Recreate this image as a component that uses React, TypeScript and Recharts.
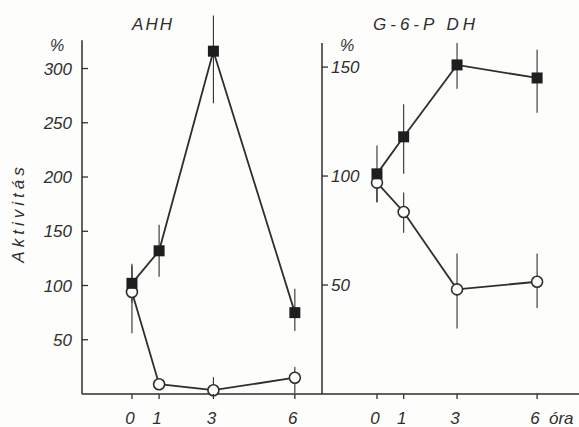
import { ErrorBar, Line, LineChart, ReferenceLine, XAxis, YAxis } from "recharts"

const hours = [0, 1, 3, 6]

// AHH panel
const ahhFilled = [102, 132, 316, 75]
const ahhFilledErr = [[18, 18], [24, 24], [48, 33], [17, 22]]
const ahhOpen = [94, 9, 3.5, 15]
const ahhOpenErr = [[38, 24], [3, 3], [3.5, 12], [14, 10]]
const ahhTicks = [50, 100, 150, 200, 250, 300]

// G-6-P DH panel
const g6pFilled = [101, 118, 151, 145]
const g6pFilledErr = [[13, 13], [17, 15], [11, 10], [16, 13]]
const g6pOpen = [97, 83.5, 48, 51.5]
const g6pOpenErr = [[9, 5], [9.5, 9], [18, 16.5], [12, 13]]
const g6pTicks = [50, 100, 150]

const INK = "#2e2e2e"
const FONT = "'Liberation Sans', Arial, sans-serif"

const ahhData = hours.map((h, i) => ({
    h,
    filled: ahhFilled[i],
    filledErr: ahhFilledErr[i],
    open: ahhOpen[i],
    openErr: ahhOpenErr[i],
}))

const g6pData = hours.map((h, i) => ({
    h,
    filled: g6pFilled[i],
    filledErr: g6pFilledErr[i],
    open: g6pOpen[i],
    openErr: g6pOpenErr[i],
}))

const textStyle = { fontFamily: FONT, fontStyle: "italic" as const, fontSize: 17, fill: INK }

const LeftYTick = (props: any) => {
    const { x, y, payload } = props
    return (
        <g>
            <line x1={x} x2={x + 6} y1={y} y2={y} stroke={INK} strokeWidth={1.3} />
            <text x={x - 10} y={y} dy="0.36em" textAnchor="end" {...textStyle}>
                {payload.value}
            </text>
        </g>
    )
}

const RightYTick = (props: any) => {
    const { x, y, payload } = props
    return (
        <g>
            <line x1={x} x2={x + 6} y1={y} y2={y} stroke={INK} strokeWidth={1.3} />
            <text x={x + 9} y={y} dy="0.36em" textAnchor="start" {...textStyle}>
                {payload.value}
            </text>
        </g>
    )
}

const XTick = (props: any) => {
    const { x, y, payload } = props
    return (
        <g>
            <line x1={x} x2={x} y1={y} y2={y + 5} stroke={INK} strokeWidth={1.3} />
            <text x={x - 2} y={y + 24} dy="0.36em" textAnchor="middle" {...textStyle}>
                {payload.value}
            </text>
        </g>
    )
}

const Square = (p: any) => (
    <rect key={p.index} x={p.cx - 5.5} y={p.cy - 5.5} width={11} height={11} fill="#1e1e1e" />
)

const openDot = { r: 5.5, fill: "#fdfdfb", stroke: INK, strokeWidth: 1.6 }

export default function App() {
    return (
        <div style={{ position: "absolute", left: 0, top: 0, width: 579, height: 427, background: "#fdfdfb" }}>
            <div style={{ position: "absolute", left: 0, top: 0 }}>
                <LineChart width={322} height={427} data={ahhData} margin={{ top: 8, right: 0, bottom: 3, left: 0 }}>
                    <XAxis
                        dataKey="h"
                        type="number"
                        domain={[-1.84, 7]}
                        ticks={hours}
                        height={30}
                        tickSize={0}
                        tickMargin={0}
                        tickLine={false}
                        tick={<XTick />}
                        stroke={INK}
                        strokeWidth={1.5}
                    />
                    <YAxis
                        type="number"
                        domain={[0, 355.8]}
                        ticks={ahhTicks}
                        width={82}
                        axisLine={false}
                        tickSize={0}
                        tickMargin={0}
                        tickLine={false}
                        tick={<LeftYTick />}
                    />
                    <ReferenceLine
                        segment={[{ x: -1.84, y: 0 }, { x: -1.84, y: 326 }]}
                        stroke={INK}
                        strokeWidth={1.5}
                    />
                    <Line
                        dataKey="open"
                        stroke={INK}
                        strokeWidth={1.8}
                        dot={openDot}
                        activeDot={false}
                        isAnimationActive={false}
                    >
                        <ErrorBar dataKey="openErr" width={0} stroke={INK} strokeWidth={1.1} direction="y" />
                    </Line>
                    <Line
                        dataKey="filled"
                        stroke={INK}
                        strokeWidth={1.8}
                        dot={Square}
                        activeDot={false}
                        isAnimationActive={false}
                    >
                        <ErrorBar dataKey="filledErr" width={0} stroke={INK} strokeWidth={1.1} direction="y" />
                    </Line>
                    <text x={153} y={24} dy="0.36em" textAnchor="middle" letterSpacing={2} {...textStyle}>
                        AHH
                    </text>
                    <text x={57} y={45} dy="0.36em" textAnchor="middle" {...textStyle} fontSize={16}>
                        %
                    </text>
                    <text
                        x={18}
                        y={213}
                        dy="0.36em"
                        textAnchor="middle"
                        letterSpacing={4}
                        transform="rotate(-90, 18, 213)"
                        {...textStyle}
                        fontSize={17}
                    >
                        Aktivitás
                    </text>
                </LineChart>
            </div>
            <div style={{ position: "absolute", left: 290, top: 0 }}>
                <LineChart width={289} height={427} data={g6pData} margin={{ top: 20, right: 0, bottom: 3, left: 0 }}>
                    <XAxis
                        dataKey="h"
                        type="number"
                        domain={[-2.06, 7.57]}
                        ticks={hours}
                        height={30}
                        tickSize={0}
                        tickMargin={0}
                        tickLine={false}
                        tick={<XTick />}
                        stroke={INK}
                        strokeWidth={1.5}
                    />
                    <YAxis
                        type="number"
                        domain={[0, 171.6]}
                        ticks={g6pTicks}
                        width={32}
                        axisLine={false}
                        tickSize={0}
                        tickMargin={0}
                        tickLine={false}
                        tick={<RightYTick />}
                    />
                    <ReferenceLine
                        segment={[{ x: -2.06, y: 0 }, { x: -2.06, y: 161 }]}
                        stroke={INK}
                        strokeWidth={1.5}
                    />
                    <Line
                        dataKey="open"
                        stroke={INK}
                        strokeWidth={1.8}
                        dot={openDot}
                        activeDot={false}
                        isAnimationActive={false}
                    >
                        <ErrorBar dataKey="openErr" width={0} stroke={INK} strokeWidth={1.1} direction="y" />
                    </Line>
                    <Line
                        dataKey="filled"
                        stroke={INK}
                        strokeWidth={1.8}
                        dot={Square}
                        activeDot={false}
                        isAnimationActive={false}
                    >
                        <ErrorBar dataKey="filledErr" width={0} stroke={INK} strokeWidth={1.1} direction="y" />
                    </Line>
                    <text x={136} y={24} dy="0.36em" textAnchor="middle" letterSpacing={4} {...textStyle}>
                        G-6-P DH
                    </text>
                    <text x={57} y={45} dy="0.36em" textAnchor="middle" {...textStyle} fontSize={16}>
                        %
                    </text>
                    <text x={259} y={418} dy="0.36em" textAnchor="start" {...textStyle}>
                        óra
                    </text>
                </LineChart>
            </div>
        </div>
    )
}
